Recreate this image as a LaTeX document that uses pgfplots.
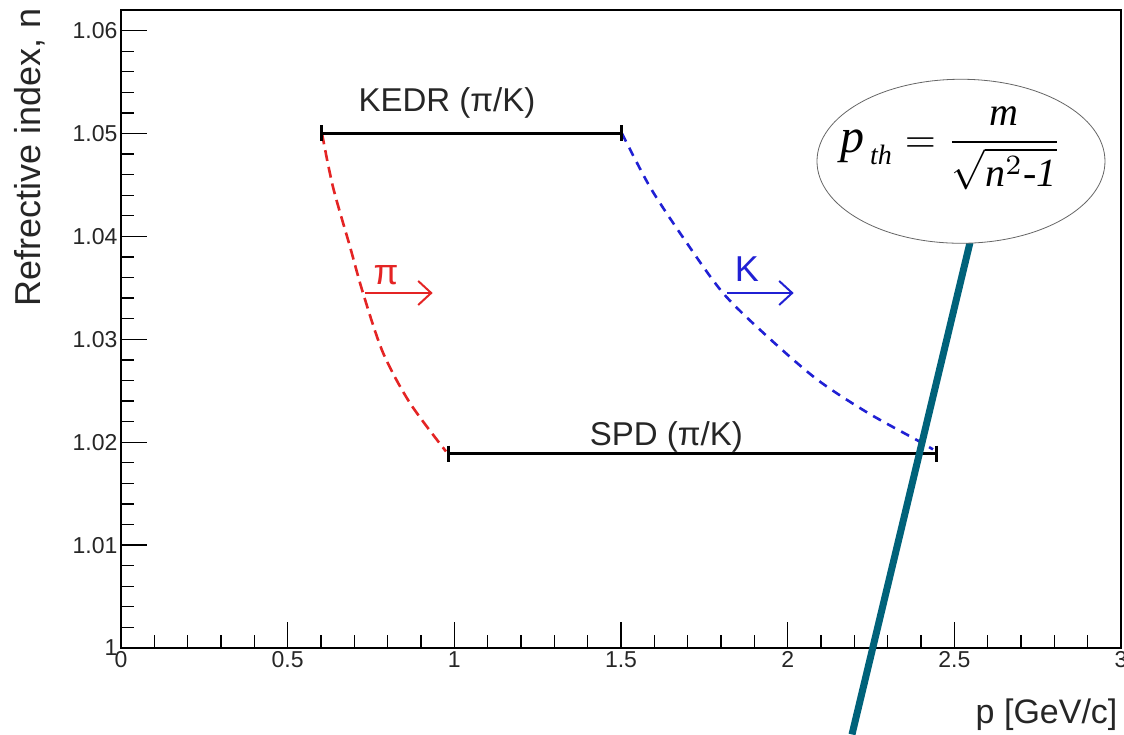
\documentclass[border=0pt]{standalone}
\usepackage{amsmath}
\usepackage{fontspec}
\setmainfont{Liberation Sans}
\newfontfamily\serifit{Liberation Serif}
\usepackage{pgfplots}
\pgfplotsset{compat=1.18}
\usetikzlibrary{arrows.meta}
\definecolor{piRed}{RGB}{228,36,36}
\definecolor{kBlue}{RGB}{32,32,212}
\definecolor{lineTeal}{RGB}{0,98,122}
\newcommand\ti[1]{\text{\serifit\itshape #1}}
\begin{document}
\begin{tikzpicture}
\useasboundingbox (-121pt,-87pt) rectangle (1003pt,648pt);
\begin{axis}[
  scale only axis, width=1000pt, height=638pt,
  at={(0pt,0pt)}, anchor=south west,
  xmin=0, xmax=3, ymin=1, ymax=1.062,
  xtick={0,0.5,1,1.5,2,2.5,3}, minor x tick num=4,
  ytick={1,1.01,1.02,1.03,1.04,1.05,1.06}, minor y tick num=4,
  tick pos=left, tick align=inside,
  major tick length=26pt, minor tick length=13pt,
  every tick/.style={black, line width=1.3pt},
  axis line style={line width=1.5pt, black},
  /pgf/number format/assume math mode=true,
  yticklabel style={/pgf/number format/fixed, /pgf/number format/precision=2},
  tick label style={font=\fontsize{23}{23}\selectfont, text=black!85},
  xlabel={p [GeV/c]}, ylabel={Refrective index, n},
  label style={font=\fontsize{34}{34}\selectfont, text=black!85},
  xlabel style={at={(axis description cs:1,-0.105)}, anchor=east},
  ylabel style={at={(axis description cs:-0.091,1.008)}, anchor=east, font=\fontsize{36}{36}\selectfont},
  clip=false,
]
% pion threshold curve
\addplot[piRed, line width=2.6pt, dash pattern=on 11pt off 6pt, smooth] coordinates {
 (0.603,1.0500) (0.636,1.0448) (0.687,1.0390) (0.726,1.0345) (0.786,1.0287) (0.867,1.0238) (0.975,1.0191)};
% kaon threshold curve
\addplot[kBlue, line width=2.6pt, dash pattern=on 9pt off 7pt, smooth] coordinates {
 (1.503,1.0500) (1.587,1.0448) (1.686,1.0399) (1.806,1.0345) (1.938,1.0303) (2.088,1.0261) (2.238,1.0229) (2.388,1.0202) (2.436,1.0193)};
% KEDR range
\addplot[black, line width=3pt, mark=|, mark size=8pt, mark options={solid, line width=2.6pt}] coordinates {(0.602,1.05) (1.502,1.05)};
% SPD range
\addplot[black, line width=3pt, mark=|, mark size=8pt, mark options={solid, line width=2.6pt}] coordinates {(0.982,1.0189) (2.447,1.0189)};
% arrows
\addplot[piRed, line width=2pt, -{Straight Barb[length=13pt,width=24pt,line width=2pt]}] coordinates {(0.732,1.0345) (0.935,1.0345)};
\addplot[kBlue, line width=2pt, -{Straight Barb[length=13pt,width=24pt,line width=2pt]}] coordinates {(1.818,1.0345) (2.018,1.0345)};
\node[piRed, font=\fontsize{36}{36}\selectfont] at (axis cs:0.795,1.0362) {π};
\node[kBlue, font=\fontsize{36}{36}\selectfont] at (axis cs:1.878,1.0368) {K};
\node[black!85, font=\fontsize{33}{33}\selectfont] at (axis cs:0.978,1.0530) {KEDR (π/K)};
\node[black!85, font=\fontsize{33}{33}\selectfont] at (axis cs:1.636,1.0205) {SPD (π/K)};
% callout
\draw[lineTeal, line width=7pt] (axis cs:2.547,1.0394) -- (axis cs:2.193,0.9916);
\draw[black!60, line width=0.8pt, fill=white] (axis cs:2.520,1.0473) ellipse [x radius=144pt, y radius=82pt];
\node[scale=4] at (axis cs:2.490,1.0486)
  {$\ti{\large p}_{\,\ti{th}} = \dfrac{\ti{m}}{\sqrt{\ti{n}^{2}\ti{-1}}}$};
\end{axis}
\end{tikzpicture}
\end{document}
